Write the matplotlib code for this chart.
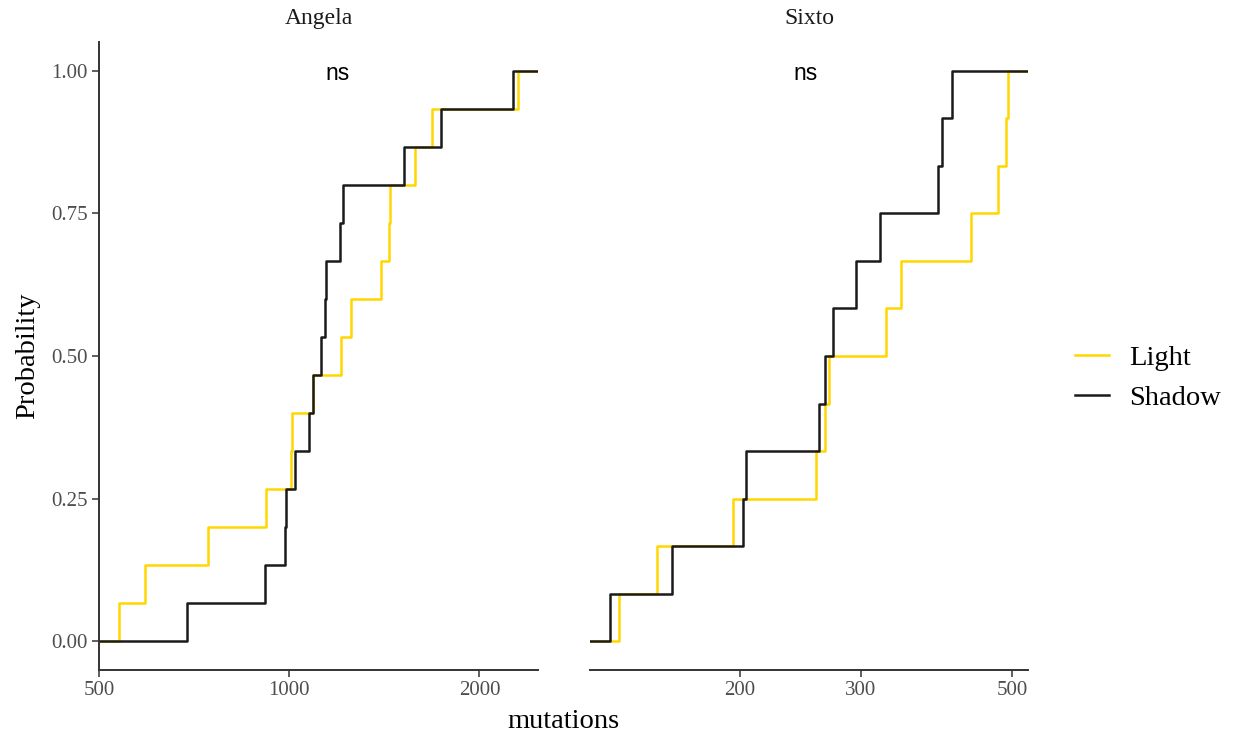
import numpy as np
import matplotlib
matplotlib.use("Agg")
import matplotlib.pyplot as plt
from matplotlib.ticker import FixedLocator, NullLocator

# mutation counts per sample, split by condition
angela_light = [537, 590, 743, 918, 1005, 1008, 1088, 1208, 1253, 1398, 1440, 1445, 1582, 1684, 2303]
angela_shadow = [688, 914, 983, 988, 1020, 1073, 1088, 1124, 1138, 1143, 1205, 1216, 1520, 1741, 2261]
sixto_light = [133, 151, 195, 258, 266, 270, 327, 344, 435, 477, 489, 493]
sixto_shadow = [129, 159, 202, 204, 261, 266, 273, 295, 320, 390, 395, 408]

panels = ["Angela", "Sixto"]
xbreaks = {"Angela": [500, 1000, 2000], "Sixto": [200, 300, 500]}
ns_x = {"Angela": 1190, "Sixto": 249}
groups = ["Light", "Shadow"]
colours = {"Light": "#FFD700", "Shadow": "#1a1a1a"}
yticks = [0, 0.25, 0.5, 0.75, 1.0]

data = {
    "Angela": {"Light": angela_light, "Shadow": angela_shadow},
    "Sixto": {"Light": sixto_light, "Shadow": sixto_shadow},
}

plt.rcParams["font.family"] = ["Liberation Serif", "DejaVu Serif"]

W, H = 1238, 738
fig = plt.figure(figsize=(W / 100, H / 100), dpi=100)
fig.patch.set_facecolor("white")

panel_px = {"Angela": (99, 538), "Sixto": (590, 1028)}
top_px, bottom_px = 42, 670


def log_limits(vals, mult=0.05):
    lo, hi = np.log10(min(vals)), np.log10(max(vals))
    pad = (hi - lo) * mult
    return 10 ** (lo - pad), 10 ** (hi + pad)


handles = {}
for name in panels:
    x0, x1 = panel_px[name]
    ax = fig.add_axes([x0 / W, 1 - bottom_px / H, (x1 - x0) / W, (bottom_px - top_px) / H])
    allvals = data[name]["Light"] + data[name]["Shadow"]
    lo, hi = log_limits(allvals)
    ax.set_xscale("log")
    ax.set_xlim(lo, hi)
    ax.set_ylim(-0.05, 1.05)

    # empirical CDF per group, padded out to the panel edges
    for g in groups:
        v = np.sort(np.array(data[name][g], dtype=float))
        n = len(v)
        xs = np.concatenate([[lo], v, [hi]])
        ys = np.concatenate([[0], np.arange(1, n + 1) / n, [1]])
        (ln,) = ax.step(xs, ys, where="post", color=colours[g], lw=1.8)
        handles[g] = ln

    ax.text(ns_x[name], 0.995, "ns", ha="center", va="center", fontsize=16.5,
            family=["Liberation Sans", "DejaVu Sans"], color="black")
    ax.text(0.5, 1 + 24 / (bottom_px - top_px), name, transform=ax.transAxes,
            ha="center", va="center", fontsize=17, color="#1a1a1a")

    for s in ["top", "right"]:
        ax.spines[s].set_visible(False)
    ax.spines["bottom"].set_color("#333333")
    ax.spines["bottom"].set_linewidth(1.4)
    ax.xaxis.set_major_locator(FixedLocator(xbreaks[name]))
    ax.xaxis.set_minor_locator(NullLocator())
    ax.set_xticklabels([str(b) for b in xbreaks[name]])
    ax.tick_params(axis="x", length=5, width=1.1, color="#333333",
                   labelsize=15, labelcolor="#4d4d4d", pad=3)

    if name == "Angela":
        ax.spines["left"].set_color("#333333")
        ax.spines["left"].set_linewidth(1.4)
        ax.set_yticks(yticks)
        ax.set_yticklabels([f"{t:.2f}" for t in yticks])
        ax.tick_params(axis="y", length=5, width=1.1, color="#333333",
                       labelsize=15, labelcolor="#4d4d4d", pad=3)
    else:
        ax.spines["left"].set_visible(False)
        ax.set_yticks([])

fig.text(28 / W, 1 - 356 / H, "Probability", rotation=90, ha="center", va="center",
         fontsize=20.5, color="black")
fig.text(563 / W, 1 - 721 / H, "mutations", ha="center", va="center",
         fontsize=20.5, color="black")

fig.legend([handles[g] for g in groups], groups, loc="center left",
           bbox_to_anchor=(1049 / W, 1 - 378 / H), frameon=False,
           fontsize=20.5, handlelength=1.2, handletextpad=0.7, labelspacing=0.5)

fig.savefig("out.png", dpi=100)
